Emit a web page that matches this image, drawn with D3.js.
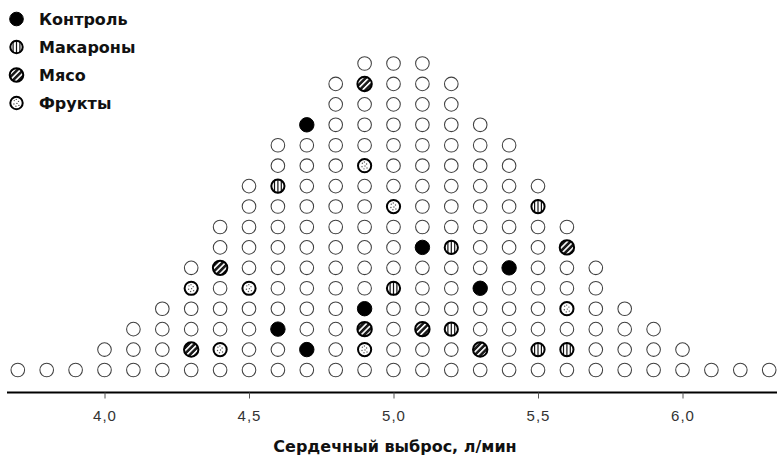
<!DOCTYPE html>
<html>
<head>
<meta charset="utf-8">
<script src="https://cdn.jsdelivr.net/npm/d3@7"></script>
<style>
  html, body { margin: 0; padding: 0; background: #fff; }
  svg { display: block; }
</style>
</head>
<body>
<svg id="chart" width="777" height="459"></svg>
<script>
// Cardiac output values (L/min) along the axis and how many people fall at each value
const outputValues = [3.7, 3.8, 3.9, 4.0, 4.1, 4.2, 4.3, 4.4, 4.5, 4.6, 4.7, 4.8, 4.9,
                      5.0, 5.1, 5.2, 5.3, 5.4, 5.5, 5.6, 5.7, 5.8, 5.9, 6.0, 6.1, 6.2, 6.3];
const counts = [1, 1, 1, 2, 3, 4, 6, 8, 10, 12, 13, 15, 16,
                16, 16, 15, 13, 12, 10, 8, 6, 4, 3, 2, 1, 1, 1];

// Sampled people in each diet group: [cardiac output, position in the stack (0 = bottom)]
const controlGroup = [[4.6, 2], [4.7, 1], [4.7, 12], [4.9, 3], [5.1, 6], [5.3, 4], [5.4, 5]];
const pastaGroup   = [[4.6, 9], [5.0, 4], [5.2, 2], [5.2, 6], [5.5, 1], [5.5, 8], [5.6, 1]];
const meatGroup    = [[4.3, 1], [4.4, 5], [4.9, 2], [4.9, 14], [5.1, 2], [5.3, 1], [5.6, 6]];
const fruitGroup   = [[4.3, 4], [4.4, 1], [4.5, 4], [4.9, 1], [4.9, 10], [5.0, 8], [5.6, 3]];

const groupNames = ["Контроль", "Макароны", "Мясо", "Фрукты"];
const tickValues = [4.0, 4.5, 5.0, 5.5, 6.0];
const axisTitle = "Сердечный выброс, л/мин";

const svg = d3.select("#chart");
const R = 7.2;
const boldFont = "'DejaVu Sans', 'Liberation Sans', Arial, sans-serif";

const x = d3.scaleLinear().domain([4.0, 6.0]).range([104.5, 682.5]);
const y = d3.scaleLinear().domain([0, 15]).range([370, 63.5]);

// Fill pattern for the diagonal hatching
const defs = svg.append("defs");
const hatch = defs.append("pattern")
  .attr("id", "hatch").attr("patternUnits", "userSpaceOnUse")
  .attr("width", 4.2).attr("height", 4.2)
  .attr("patternTransform", "rotate(45)");
hatch.append("rect").attr("width", 4.2).attr("height", 4.2).attr("fill", "#1a1a1a");
hatch.append("rect").attr("x", 0).attr("width", 1.6).attr("height", 4.2).attr("fill", "#fff");

const groups = [
  { name: groupNames[0], data: controlGroup, kind: "solid" },
  { name: groupNames[1], data: pastaGroup, kind: "stripe" },
  { name: groupNames[2], data: meatGroup, kind: "hatch" },
  { name: groupNames[3], data: fruitGroup, kind: "dots" }
];

// Draw one group-styled marker centred at (cx, cy)
function drawMarker(g, cx, cy, r, kind) {
  if (kind === "solid") {
    g.append("circle").attr("cx", cx).attr("cy", cy).attr("r", r)
      .attr("fill", "#000").attr("stroke", "#000").attr("stroke-width", 1);
    return;
  }
  if (kind === "stripe") {
    const p = g.append("g").attr("transform", `translate(${cx},${cy})`);
    p.append("circle").attr("r", r).attr("fill", "#fff");
    [-3.4, 0, 3.4].forEach(dx => {
      const h = Math.sqrt(Math.max(0, r * r - dx * dx));
      p.append("line").attr("x1", dx).attr("x2", dx).attr("y1", -h).attr("y2", h)
        .attr("stroke", "#111").attr("stroke-width", 1.2);
    });
    p.append("circle").attr("r", r - 0.6).attr("fill", "none")
      .attr("stroke", "#000").attr("stroke-width", 2);
    return;
  }
  if (kind === "hatch") {
    g.append("circle").attr("cx", cx).attr("cy", cy).attr("r", r)
      .attr("fill", "url(#hatch)").attr("stroke", "#000").attr("stroke-width", 2);
    return;
  }
  // dotted
  const p = g.append("g").attr("transform", `translate(${cx},${cy})`);
  p.append("circle").attr("r", r - 0.6).attr("fill", "#fff")
    .attr("stroke", "#000").attr("stroke-width", 2);
  [[-2.2, -2.4], [2.0, -1.6], [-2.6, 1.0], [0.4, 0.4], [2.4, 2.4], [-0.6, 3.2], [-0.2, -3.6]]
    .forEach(([dx, dy]) => {
      p.append("circle").attr("cx", dx).attr("cy", dy).attr("r", 0.7).attr("fill", "#555");
    });
}

// Whole population: one open circle per person
const population = [];
outputValues.forEach((v, i) => {
  for (let k = 0; k < counts[i]; k++) population.push({ v, k });
});

const marked = new Set();
groups.forEach(gr => gr.data.forEach(([v, k]) => marked.add(v.toFixed(1) + ":" + k)));

const dots = svg.append("g");
dots.selectAll("circle.plain")
  .data(population.filter(d => !marked.has(d.v.toFixed(1) + ":" + d.k)))
  .join("circle")
  .attr("class", "plain")
  .attr("cx", d => x(d.v))
  .attr("cy", d => y(d.k))
  .attr("r", R - 0.4)
  .attr("fill", "#fff")
  .attr("stroke", "#404040")
  .attr("stroke-width", 1.05);

groups.forEach(gr => {
  gr.data.forEach(([v, k]) => drawMarker(dots, x(v), y(k), R, gr.kind));
});

// Axis
const axisG = svg.append("g").attr("transform", "translate(0,392.5)");
axisG.append("line").attr("x1", 7).attr("x2", 777).attr("y1", 0).attr("y2", 0)
  .attr("stroke", "#000").attr("stroke-width", 2);
const axis = d3.axisBottom(x).tickValues(tickValues).tickSize(6).tickPadding(12)
  .tickFormat(d => d3.format(".1f")(d).replace(".", ","));
const ax = axisG.append("g").call(axis);
ax.select(".domain").remove();
ax.selectAll(".tick line").attr("stroke", "#555").attr("stroke-width", 1);
ax.selectAll(".tick text")
  .attr("font-family", "'Liberation Sans', Arial, sans-serif")
  .attr("font-size", 15)
  .attr("letter-spacing", 1)
  .attr("fill", "#333");

svg.append("text")
  .attr("x", 395).attr("y", 452)
  .attr("text-anchor", "middle")
  .attr("font-family", boldFont)
  .attr("font-weight", "bold")
  .attr("font-size", 16)
  .attr("fill", "#111")
  .text(axisTitle);

// Legend
const legend = svg.append("g");
groups.forEach((gr, i) => {
  const ly = 19 + i * 28;
  drawMarker(legend, 16.5, ly, 6.8, gr.kind);
  legend.append("text")
    .attr("x", 39).attr("y", ly + 6)
    .attr("font-family", boldFont)
    .attr("font-weight", "bold")
    .attr("font-size", 16)
    .attr("fill", "#111")
    .text(gr.name);
});
</script>
</body>
</html>
